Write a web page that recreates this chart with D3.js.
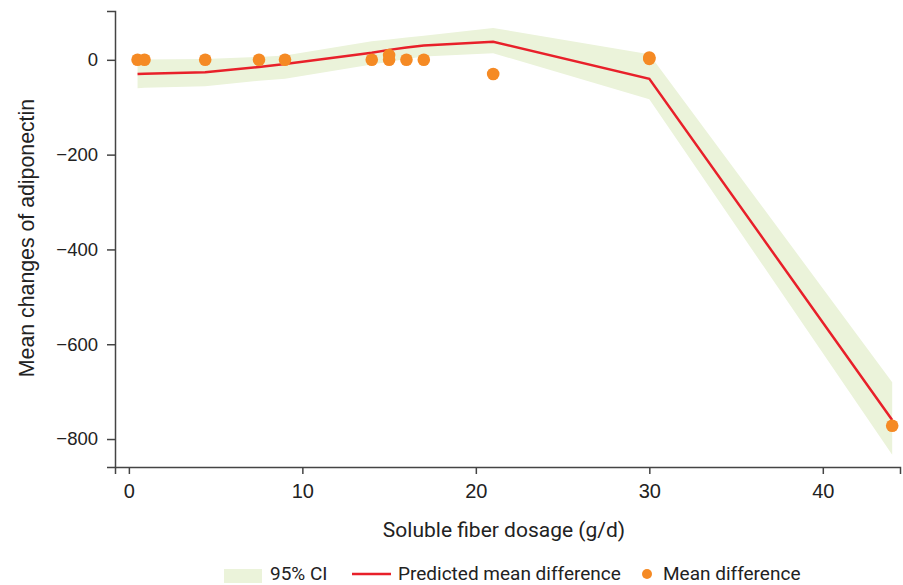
<!DOCTYPE html>
<html>
<head>
<meta charset="utf-8">
<script src="https://cdn.jsdelivr.net/npm/d3@7"></script>
<style>
  body { margin: 0; background: #fff; }
  svg { display: block; }
  .axis text { font-family: "Liberation Sans", Arial, sans-serif; font-size: 18.5px; fill: #222; }
  .axis path, .axis line { stroke: #444; stroke-width: 1.5; }
  .xaxis text { font-size: 20px; }
  .xtitle { font-family: Roboto, sans-serif; font-size: 21px; fill: #222; }
  .ytitle { font-family: "Liberation Sans", Arial, sans-serif; font-size: 21.3px; fill: #222; }
  .legend text { font-family: Roboto, sans-serif; font-size: 19px; fill: #222; }
</style>
</head>
<body>
<div id="chart"></div>
<script>
// fitted curve knots (dose in g/d)
const fitDose = [0.5, 0.9, 4.4, 7.5, 9, 14, 15, 16, 17, 21, 30, 44];
const fitMean = [-30, -29.5, -26, -15, -9, 15, 21, 26, 30, 38, -40, -760];
const fitUpper = [0, 0.5, 2, 6, 9, 39, 43, 47, 51, 67, 12, -680];
const fitLower = [-60, -59, -56, -44, -40, -10, -4, 2, 7, 14, -83, -833];

// observed study means
const obsDose = [0.5, 0.9, 4.4, 7.5, 9, 14, 15, 15, 16, 17, 21, 30, 30, 44];
const obsMean = [0, 0, 0, 0, 0, 0, 10, 0, 0, 0, -30, 5, 2, -772];

const xTicks = [0, 10, 20, 30, 40];
const yTicks = [-800, -600, -400, -200, 0];

const W = 903, H = 585;

const svg = d3.select("#chart").append("svg")
    .attr("width", W)
    .attr("height", H);

const x = d3.scaleLinear().domain([-0.8, 44.45]).range([115, 900]);
const y = d3.scaleLinear().domain([-859, 103]).range([467, 11]);

const fit = fitDose.map((d, i) => ({ x: d, m: fitMean[i], lo: fitLower[i], hi: fitUpper[i] }));
const obs = obsDose.map((d, i) => ({ x: d, y: obsMean[i] }));

// CI band
svg.append("path")
    .datum(fit)
    .attr("fill", "#ebf3da")
    .attr("d", d3.area().x(d => x(d.x)).y0(d => y(d.lo)).y1(d => y(d.hi)));

// predicted line
svg.append("path")
    .datum(fit)
    .attr("fill", "none")
    .attr("stroke", "#e8202a")
    .attr("stroke-width", 2.5)
    .attr("d", d3.line().x(d => x(d.x)).y(d => y(d.m)));

// observed points
svg.append("g").selectAll("circle")
    .data(obs)
    .join("circle")
    .attr("cx", d => x(d.x))
    .attr("cy", d => y(d.y))
    .attr("r", 6.3)
    .attr("fill", "#f58a24");

// axes
svg.append("g")
    .attr("class", "axis xaxis")
    .attr("transform", "translate(0,467)")
    .call(d3.axisBottom(x).tickValues(xTicks).tickSizeOuter(0).tickSize(7).tickPadding(10));

svg.append("g")
    .attr("class", "axis")
    .attr("transform", "translate(115,0)")
    .call(d3.axisLeft(y).tickValues(yTicks).tickSizeOuter(0).tickSize(8).tickPadding(9));

// axis titles
svg.append("text")
    .attr("class", "xtitle")
    .attr("x", 504).attr("y", 537)
    .attr("text-anchor", "middle")
    .text("Soluble fiber dosage (g/d)");

svg.append("text")
    .attr("class", "ytitle")
    .attr("transform", "translate(34,238) rotate(-90)")
    .attr("text-anchor", "middle")
    .text("Mean changes of adiponectin");

// legend (kept just inside the bottom edge)
const lg = svg.append("g").attr("class", "legend");
lg.append("rect").attr("x", 224).attr("y", 569).attr("width", 38).attr("height", 14).attr("fill", "#ebf3da");
lg.append("text").attr("x", 270).attr("y", 580).text("95% CI");
lg.append("line").attr("x1", 352).attr("x2", 391).attr("y1", 574).attr("y2", 574)
    .attr("stroke", "#e8202a").attr("stroke-width", 2.5);
lg.append("text").attr("x", 398).attr("y", 580).text("Predicted mean difference");
lg.append("circle").attr("cx", 647).attr("cy", 574).attr("r", 5).attr("fill", "#f58a24");
lg.append("text").attr("x", 663).attr("y", 580).text("Mean difference");
</script>
</body>
</html>
